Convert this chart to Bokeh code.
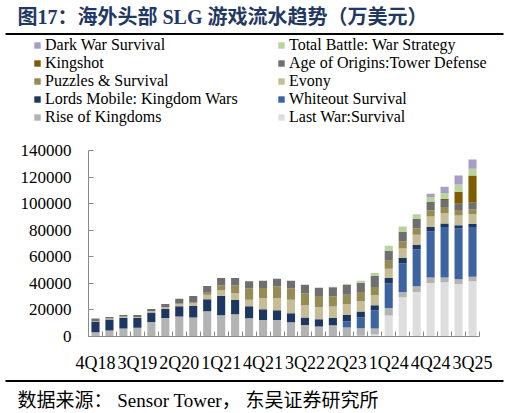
from bokeh.plotting import figure
from bokeh.models import (Range1d, FixedTicker, Legend, LegendItem, Label, LinearAxis,
                          BoxAnnotation, BasicTickFormatter, ColumnDataSource)
from bokeh.embed import file_html
from bokeh.resources import INLINE

quarters = ["4Q18",
            "1Q19", "2Q19", "3Q19", "4Q19",
            "1Q20", "2Q20", "3Q20", "4Q20",
            "1Q21", "2Q21", "3Q21", "4Q21",
            "1Q22", "2Q22", "3Q22", "4Q22",
            "1Q23", "2Q23", "3Q23", "4Q23",
            "1Q24", "2Q24", "3Q24", "4Q24",
            "1Q25", "2Q25", "3Q25"]
tick_labels = ["4Q18", "3Q19", "2Q20", "1Q21", "4Q21", "3Q22", "2Q23", "1Q24", "4Q24", "3Q25"]
y_ticks = [0, 20000, 40000, 60000, 80000, 100000, 120000, 140000]

# series, bottom of stack to top
last_war = [0, 0, 0, 0, 0, 0, 0, 0, 0, 0, 0, 0, 0, 0, 0, 0, 0, 0, 0, 500,
            1500, 15750, 29500, 33500, 40250, 40750, 39500, 41500]
rise_of_kingdoms = [3250, 4500, 6000, 6500, 11000, 14000, 15000, 14250, 19000, 16000,
                    16750, 13750, 12500, 12500, 10750, 8750, 7500, 8500, 6750, 5750,
                    4500, 5750, 4000, 4250, 4250, 3750, 3500, 3500]
whiteout = [0, 0, 0, 0, 0, 0, 0, 0, 0, 0, 0, 0, 0, 0, 0, 0, 0, 0, 4750, 8250,
            13750, 18500, 21500, 27750, 34500, 38000, 38500, 37500]
lords_mobile = [8000, 8250, 8000, 7500, 7000, 6750, 7750, 8750, 9000, 14750,
                10750, 9000, 8000, 7250, 6750, 5500, 5500, 5500, 4750, 4250,
                3750, 4000, 4000, 3500, 3500, 2500, 2250, 2250]
evony = [500, 750, 1000, 750, 1250, 1250, 1500, 2000, 3500, 4250,
         5000, 5000, 8500, 9250, 10250, 9250, 9000, 8500, 8000, 8000,
         7500, 7000, 7250, 7500, 7750, 7750, 7250, 7250]
puzzles = [0, 0, 0, 0, 0, 0, 500, 750, 1500, 3500,
           6000, 8500, 7500, 8750, 8500, 9000, 8500, 7750, 7250, 6750,
           6250, 6000, 5500, 5000, 4750, 4750, 4250, 3750]
age_of_origins = [1750, 1250, 1250, 1500, 1500, 2500, 3750, 4750, 5000, 5500,
                  5500, 5250, 5500, 5750, 5750, 6500, 6250, 6750, 7250, 7000,
                  8250, 7500, 7000, 7000, 6250, 5250, 4750, 5000]
kingshot = [0, 0, 0, 0, 0, 0, 0, 0, 0, 0, 0, 0, 0, 0, 0, 0, 0, 0, 0, 0,
            0, 0, 0, 0, 0, 1000, 9000, 20500]
total_battle = [0, 0, 0, 0, 0, 0, 0, 0, 0, 0, 0, 0, 0, 0, 0, 0, 0, 500, 750, 1500,
                2250, 3750, 4000, 3500, 3750, 4000, 5500, 5000]
dark_war = [0, 0, 0, 0, 0, 0, 0, 0, 0, 0, 0, 0, 0, 0, 0, 0, 0, 0, 0, 0,
            0, 0, 0, 0, 2500, 5000, 6750, 7000]

series_names = ["Last War:Survival", "Rise of Kingdoms", "Whiteout Survival",
                "Lords Mobile: Kingdom Wars", "Evony", "Puzzles & Survival",
                "Age of Origins:Tower Defense", "Kingshot", "Total Battle: War Strategy",
                "Dark War Survival"]
series_values = [last_war, rise_of_kingdoms, whiteout, lords_mobile, evony, puzzles,
                 age_of_origins, kingshot, total_battle, dark_war]
colors = ["#DEDEDE", "#B3B3B3", "#3C64A0", "#1C3761", "#C6BD96", "#958B55",
          "#6F6F6F", "#7F5C00", "#B7D49C", "#A99CC6"]
legend_order = ["Dark War Survival", "Total Battle: War Strategy",
                "Kingshot", "Age of Origins:Tower Defense",
                "Puzzles & Survival", "Evony",
                "Lords Mobile: Kingdom Wars", "Whiteout Survival",
                "Rise of Kingdoms", "Last War:Survival"]

title_text = "图17：海外头部 SLG 游戏流水趋势（万美元）"
source_text = "数据来源： Sensor Tower， 东吴证券研究所"

# ---------- page geometry (pixels from the top-left of the canvas) ----------
W, H = 509, 413
PLOT_L, PLOT_R, PLOT_T, PLOT_B = 88, 479, 150, 336
n = len(quarters)
x_lo, x_hi = -0.5, n - 0.5
y_lo, y_hi = 0, y_ticks[-1]
ux = (PLOT_R - PLOT_L) / (x_hi - x_lo)
uy = (PLOT_B - PLOT_T) / (y_hi - y_lo)
x_range = Range1d(x_lo - PLOT_L / ux, x_hi + (W - PLOT_R) / ux)
y_range = Range1d(y_lo - (H - PLOT_B) / uy, y_hi + PLOT_T / uy)

serif = "Liberation Serif"
serif_cjk = "Liberation Serif, Noto Sans CJK SC"

p = figure(width=W, height=H, output_backend="svg", toolbar_location=None,
           x_range=x_range, y_range=y_range, x_axis_type=None, y_axis_type=None,
           min_border=0)
p.outline_line_color = None

keys = ["s%d" % i for i in range(len(series_names))]
data = {"x": list(range(n))}
for k, v in zip(keys, series_values):
    data[k] = v
source = ColumnDataSource(data)
renderers = p.vbar_stack(keys, x="x", width=0.58, source=source,
                         fill_color=colors, line_color=None)

# ---------- axes ----------
axis_col = "#8A8A8A"
xa = LinearAxis(fixed_location=y_lo, bounds=(x_lo, x_hi),
                ticker=FixedTicker(ticks=[quarters.index(t) for t in tick_labels],
                                   minor_ticks=[i - 0.5 for i in range(n + 1)]),
                major_label_overrides={quarters.index(t): t for t in tick_labels},
                axis_line_color=axis_col, major_tick_line_color=None,
                minor_tick_line_color=axis_col, minor_tick_in=5, minor_tick_out=0,
                major_label_standoff=10, major_label_text_font=serif,
                major_label_text_font_size="18px", major_label_text_color="black")
p.add_layout(xa, "below")

ya = LinearAxis(fixed_location=x_lo, bounds=(y_lo, y_hi),
                ticker=FixedTicker(ticks=y_ticks),
                formatter=BasicTickFormatter(use_scientific=False),
                axis_line_color=axis_col, major_tick_line_color=axis_col,
                major_tick_in=5, major_tick_out=0, minor_tick_line_color=None,
                major_label_standoff=17, major_label_text_font=serif,
                major_label_text_font_size="17px", major_label_text_color="black")
p.add_layout(ya, "left")

# ---------- legend ----------
name_to_r = dict(zip(series_names, renderers))
items = [LegendItem(label=nm, renderers=[name_to_r[nm]]) for nm in legend_order]
legend = Legend(items=items, orientation="horizontal", ncols=2,
                location=(33, H - 126), glyph_width=8, glyph_height=8,
                label_standoff=4, label_width=232, label_height=17, spacing=0,
                padding=0, margin=0, border_line_color=None, background_fill_alpha=0,
                label_text_font=serif, label_text_font_size="16px",
                label_text_color="black")
p.add_layout(legend)

# ---------- title, rules, source ----------
p.add_layout(Label(x=17, y=H - 16, x_units="screen", y_units="screen",
                   text=title_text, text_font=serif_cjk, text_font_style="bold",
                   text_font_size="20px", text_color="#1F3864", text_baseline="middle"))
p.add_layout(Label(x=17, y=H - 400, x_units="screen", y_units="screen",
                   text=source_text, text_font=serif_cjk, text_font_size="19px",
                   text_color="black", text_baseline="middle"))


def rule(y_top_px, thick=2):
    return BoxAnnotation(left=5, right=503, top=H - y_top_px, bottom=H - y_top_px - thick,
                         left_units="screen", right_units="screen",
                         top_units="screen", bottom_units="screen",
                         fill_color="black", fill_alpha=1, line_color=None)


p.add_layout(rule(32.5))
p.add_layout(rule(379.5))

open("out.html", "w").write(file_html(p, INLINE))
